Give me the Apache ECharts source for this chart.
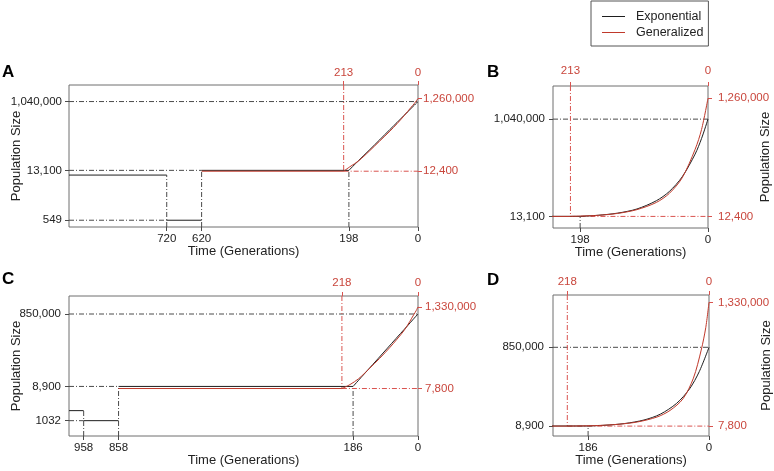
<!DOCTYPE html>
<html lang="en">
<head>
<meta charset="UTF-8">
<title>Population size history</title>
<style>
  html, body { margin: 0; padding: 0; background: #fff; }
  #main { width: 774px; height: 471px; }
</style>
</head>
<body>
<div id="main"></div>
<script src="https://cdn.jsdelivr.net/npm/echarts@6/dist/echarts.min.js"></script>
<script>
// time = generations before present, size = population size

// data set 1 (panels A and B)
var exp1Steps = [[1000, 720, 9700], [720, 620, 549], [620, 198, 13100]]; // [from, to, size]
var exp1T = [198, 170, 140, 110, 80, 60, 40, 20, 10, 0];
var exp1N = [13100, 24500, 47000, 91000, 178000, 275000, 430000, 670000, 835000, 1040000];
var gen1Flat = [620, 213, 12400];
var gen1T = [213, 195, 170, 140, 110, 80, 60, 40, 20, 10, 0];
var gen1N = [12400, 16500, 24000, 44000, 84000, 160000, 255000, 420000, 720000, 930000, 1260000];

// data set 2 (panels C and D)
var exp2Steps = [[1000, 958, 1940], [958, 858, 1032], [858, 186, 8900]];
var exp2T = [186, 160, 130, 100, 75, 50, 30, 15, 0];
var exp2N = [8900, 16900, 35000, 73000, 135000, 250000, 405000, 590000, 850000];
var gen2Flat = [858, 218, 7800];
var gen2T = [218, 195, 170, 140, 110, 80, 60, 40, 24, 12, 5, 0];
var gen2N = [7800, 10000, 14500, 27000, 52000, 105000, 175000, 300000, 520000, 820000, 1060000, 1330000];

// tick values and labels
var ticksA_bottom = [720, 620, 198, 0];
var ticksA_top = [213, 0];
var ticksA_left = [1040000, 13100, 549];
var labelsA_left = ['1,040,000', '13,100', '549'];
var ticksA_right = [1260000, 12400];
var labelsA_right = ['1,260,000', '12,400'];

var ticksB_bottom = [198, 0];
var ticksB_top = [213, 0];
var ticksB_left = [1040000, 13100];
var labelsB_left = ['1,040,000', '13,100'];
var ticksB_right = [1260000, 12400];
var labelsB_right = ['1,260,000', '12,400'];

var ticksC_bottom = [958, 858, 186, 0];
var ticksC_top = [218, 0];
var ticksC_left = [850000, 8900, 1032];
var labelsC_left = ['850,000', '8,900', '1032'];
var ticksC_right = [1330000, 7800];
var labelsC_right = ['1,330,000', '7,800'];

var ticksD_bottom = [186, 0];
var ticksD_top = [218, 0];
var ticksD_left = [850000, 8900];
var labelsD_left = ['850,000', '8,900'];
var ticksD_right = [1330000, 7800];
var labelsD_right = ['1,330,000', '7,800'];

var BLACK = '#1e1e1e', RED = '#c0392b', REDTXT = '#c9463c', FRAME = '#6e6e6e';
var REFBLACK = '#4a4a4a', REFRED = '#d9534f';
var FONT = 'Liberation Sans, Arial, sans-serif';
var DASH = [5, 2, 1, 2];

var panels = [
  { letter: 'A', titleLeft: 2, titleTop: 64, left: 69, top: 85, width: 349, height: 142,
    xMax: 1000, log: true, yMin: 357, yMax: 2980000,
    bottom: ticksA_bottom, topT: ticksA_top, yl: ticksA_left, ylText: labelsA_left,
    yr: ticksA_right, yrText: labelsA_right, nameSide: 'left', topMargin: 6, leftMargin: 7, rightMargin: 5,
    steps: exp1Steps, expT: exp1T, expN: exp1N, genFlat: gen1Flat, genT: gen1T, genN: gen1N,
    refH: [[1040000, 1000, 0], [13100, 1000, 620], [549, 1000, 720]],
    refV: [[720, 9700], [620, 13100], [198, 13100]],
    redH: [[12400, 213, 0]], redV: [[213, 12400]] },
  { letter: 'B', titleLeft: 487, titleTop: 64, left: 553, top: 86, width: 155, height: 142,
    xMax: 240, log: false, yMin: -110000, yMax: 1390000,
    bottom: ticksB_bottom, topT: ticksB_top, yl: ticksB_left, ylText: labelsB_left,
    yr: ticksB_right, yrText: labelsB_right, nameSide: 'right', topMargin: 9, leftMargin: 8, rightMargin: 10,
    steps: exp1Steps, expT: exp1T, expN: exp1N, genFlat: gen1Flat, genT: gen1T, genN: gen1N,
    refH: [[1040000, 240, 0]],
    refV: [[198, 13100]],
    redH: [[12400, 213, 0]], redV: [[213, 12400]] },
  { letter: 'C', titleLeft: 2, titleTop: 271, left: 69, top: 296, width: 349, height: 140,
    xMax: 1000, log: true, yMin: 393, yMax: 2640000,
    bottom: ticksC_bottom, topT: ticksC_top, yl: ticksC_left, ylText: labelsC_left,
    yr: ticksC_right, yrText: labelsC_right, nameSide: 'left', topMargin: 7, leftMargin: 8, rightMargin: 7,
    steps: exp2Steps, expT: exp2T, expN: exp2N, genFlat: gen2Flat, genT: gen2T, genN: gen2N,
    refH: [[850000, 1000, 0], [8900, 1000, 858], [1032, 1000, 958]],
    refV: [[958, 1940], [858, 8900], [186, 8900]],
    redH: [[7800, 218, 0]], redV: [[218, 7800]] },
  { letter: 'D', titleLeft: 487, titleTop: 272, left: 553, top: 295, width: 156, height: 141,
    xMax: 240, log: false, yMin: -98000, yMax: 1409000,
    bottom: ticksD_bottom, topT: ticksD_top, yl: ticksD_left, ylText: labelsD_left,
    yr: ticksD_right, yrText: labelsD_right, nameSide: 'right', topMargin: 7, leftMargin: 9, rightMargin: 9,
    steps: exp2Steps, expT: exp2T, expN: exp2N, genFlat: gen2Flat, genT: gen2T, genN: gen2N,
    refH: [[850000, 240, 0]],
    refV: [[186, 8900]],
    redH: [[7800, 218, 0]], redV: [[218, 7800]] }
];

// pick the label whose tick value is nearest (log axes hand back rounded floats)
function labelFor(values, texts) {
  return function (v) {
    var best = 0, bd = Infinity;
    for (var i = 0; i < values.length; i++) {
      var d = Math.abs(Math.log(Math.abs(v) + 1) - Math.log(Math.abs(values[i]) + 1));
      if (d < bd) { bd = d; best = i; }
    }
    return texts[best];
  };
}

function zip(t, n) {
  return t.map(function (x, i) { return [x, n[i]]; });
}

var grids = [], xAxes = [], yAxes = [], series = [], titles = [];
var nameStyle = { fontSize: 13, fontFamily: FONT, color: '#222' };
var noLine = { show: false, onZero: false };

panels.forEach(function (p, i) {
  titles.push({ text: p.letter, left: p.titleLeft, top: p.titleTop, padding: 0,
    textStyle: { fontSize: 17, fontWeight: 'bold', fontFamily: FONT, color: '#000' } });
  grids.push({ left: p.left, top: p.top, width: p.width, height: p.height,
    outerBoundsMode: 'none', containLabel: false,
    show: true, borderColor: FRAME, borderWidth: 1, backgroundColor: 'transparent' });

  var xStr = p.bottom.map(String), xTopStr = p.topT.map(String);
  xAxes.push({
    gridIndex: i, type: 'value', min: 0, max: p.xMax, inverse: true, position: 'bottom',
    splitLine: { show: false }, axisLine: noLine,
    axisTick: { show: true, customValues: p.bottom, length: 4, lineStyle: { color: REFBLACK } },
    axisLabel: { customValues: p.bottom, margin: 6, color: '#222', fontSize: 11.5, fontFamily: FONT,
      formatter: labelFor(p.bottom, xStr) },
    name: 'Time (Generations)', nameLocation: 'middle', nameGap: 18, nameMoveOverlap: false,
    nameTextStyle: nameStyle
  });
  xAxes.push({
    gridIndex: i, type: 'value', min: 0, max: p.xMax, inverse: true, position: 'top',
    splitLine: { show: false }, axisLine: noLine,
    axisTick: { show: true, customValues: p.topT, length: 4, lineStyle: { color: REFRED } },
    axisLabel: { customValues: p.topT, margin: p.topMargin, color: REDTXT, fontSize: 11.5, fontFamily: FONT,
      formatter: labelFor(p.topT, xTopStr) }
  });

  var yType = p.log ? 'log' : 'value';
  var left = {
    gridIndex: i, type: yType, min: p.yMin, max: p.yMax, position: 'left',
    splitLine: { show: false }, axisLine: noLine,
    axisTick: { show: true, customValues: p.yl, length: 4, lineStyle: { color: REFBLACK } },
    axisLabel: { customValues: p.yl, margin: p.leftMargin, color: '#222', fontSize: 11.5, fontFamily: FONT,
      formatter: labelFor(p.yl, p.ylText) }
  };
  var right = {
    gridIndex: i, type: yType, min: p.yMin, max: p.yMax, position: 'right',
    splitLine: { show: false }, axisLine: noLine,
    axisTick: { show: true, customValues: p.yr, length: 4, lineStyle: { color: REFRED } },
    axisLabel: { customValues: p.yr, margin: p.rightMargin, color: REDTXT, fontSize: 11.5, fontFamily: FONT,
      formatter: labelFor(p.yr, p.yrText) }
  };
  var named = p.nameSide === 'left' ? left : right;
  named.name = 'Population Size';
  named.nameLocation = 'middle';
  named.nameRotate = 90;
  named.nameGap = p.nameSide === 'left' ? 46 : 51;
  named.nameMoveOverlap = false;
  named.nameTextStyle = nameStyle;
  yAxes.push(left, right);

  var xi = 2 * i, yi = 2 * i;
  function line(name, data, color, extra) {
    var s = { type: 'line', name: name, xAxisIndex: xi, yAxisIndex: yi, data: data,
      symbol: 'none', showSymbol: false, silent: true, animation: false, z: 3,
      lineStyle: { color: color, width: 1 }, itemStyle: { color: color } };
    for (var k in extra) s[k] = extra[k];
    series.push(s);
  }
  function ref(data, color) {
    line('ref', data, color, { z: 2, lineStyle: { color: color, width: 1, type: DASH } });
  }

  // reference lines
  p.refH.forEach(function (r) { ref([[r[1], r[0]], [r[2], r[0]]], REFBLACK); });
  p.refV.forEach(function (r) { ref([[r[0], p.yMin], [r[0], r[1]]], REFBLACK); });
  p.redH.forEach(function (r) { ref([[r[1], r[0]], [r[2], r[0]]], REFRED); });
  p.redV.forEach(function (r) { ref([[r[0], p.yMax], [r[0], r[1]]], REFRED); });

  // model curves
  p.steps.forEach(function (s) { line('Exponential', [[s[0], s[2]], [s[1], s[2]]], BLACK, {}); });
  line('Exponential', zip(p.expT, p.expN), BLACK, { smooth: 0.3 });
  line('Generalized', [[p.genFlat[0], p.genFlat[2]], [p.genFlat[1], p.genFlat[2]]], RED, {});
  line('Generalized', zip(p.genT, p.genN), RED, { smooth: 0.3 });
});

var chart = echarts.init(document.getElementById('main'));
chart.setOption({
  animation: false,
  backgroundColor: '#fff',
  title: titles,
  legend: {
    data: [
      { name: 'Exponential', icon: 'rect', itemStyle: { color: BLACK } },
      { name: 'Generalized', icon: 'rect', itemStyle: { color: RED } }
    ],
    left: 591, top: 1, orient: 'vertical',
    itemWidth: 23, itemHeight: 1, itemGap: 1, padding: [8, 5, 6, 11],
    borderColor: '#555', borderWidth: 1,
    textStyle: { fontSize: 12.5, fontFamily: FONT, color: '#222', lineHeight: 15, padding: [0, 0, 0, 6] }
  },
  grid: grids,
  xAxis: xAxes,
  yAxis: yAxes,
  series: series
});
</script>
</body>
</html>
